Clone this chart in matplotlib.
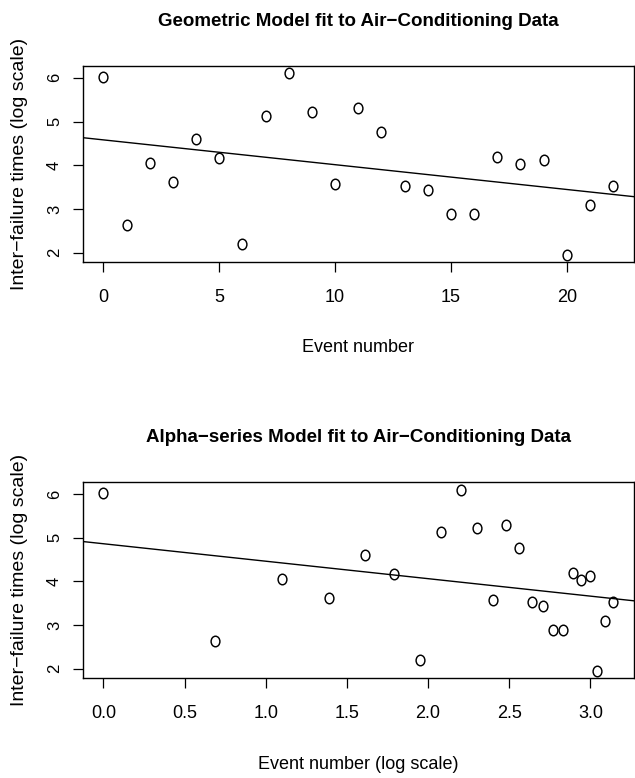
import matplotlib
matplotlib.use("Agg")
import matplotlib.pyplot as plt
from matplotlib.path import Path
from matplotlib.transforms import Affine2D

# air-conditioning data
event = list(range(23))
log_event = [0.00, 0.69, 1.10, 1.39, 1.61, 1.79, 1.95, 2.08, 2.20, 2.30, 2.40, 2.48,
             2.56, 2.64, 2.71, 2.77, 2.83, 2.89, 2.94, 3.00, 3.04, 3.09, 3.14]
log_times = [6.02, 2.64, 4.06, 3.61, 4.60, 4.17, 2.20, 5.13, 6.10, 5.22, 3.58, 5.30,
             4.77, 3.53, 3.43, 2.89, 2.89, 4.20, 4.04, 4.13, 1.95, 3.09, 3.53]

# fitted lines (intercept, slope)
geom_fit = (4.58, -0.0567)
alpha_fit = (4.86, -0.40)

x_ticks_top = [0, 5, 10, 15, 20]
x_ticks_bot = [0.0, 0.5, 1.0, 1.5, 2.0, 2.5, 3.0]
y_ticks = [2, 3, 4, 5, 6]

fam = ['Liberation Sans', 'DejaVu Sans']

# slightly tall circle, like the scanned original
ring = Path.unit_circle().transformed(Affine2D().scale(1.0, 1.2))

fig = plt.figure(figsize=(6.35, 7.78), dpi=100)
ax1 = fig.add_axes([0.1307, 0.663, 0.867, 0.252])
ax2 = fig.add_axes([0.1307, 0.1285, 0.867, 0.2515])


def panel(ax, x, fit, xticks, xfmt, title, xlabel):
    ax.plot(x, log_times, linestyle='none', marker=ring, markersize=7.6,
            markerfacecolor='none', markeredgecolor='black', markeredgewidth=1.05)
    ax.axline((0, fit[0]), slope=fit[1], color='black', linewidth=1.0)
    lo, hi = min(x), max(x)
    ext = 0.04 * (hi - lo)
    ax.set_xlim(lo - ext, hi + ext)
    ylo, yhi = min(log_times), max(log_times)
    yext = 0.04 * (yhi - ylo)
    ax.set_ylim(ylo - yext, yhi + yext)
    ax.set_xticks(xticks)
    ax.set_xticklabels([xfmt.format(t) for t in xticks], family=fam, fontsize=13, va='center')
    ax.set_yticks(y_ticks)
    ax.set_yticklabels([str(t) for t in y_ticks], family=fam, fontsize=12,
                       rotation=90, va='center', ha='center')
    ax.tick_params(axis='x', length=7.5, width=0.9, pad=18)
    ax.tick_params(axis='y', length=7.5, width=0.9, pad=13)
    for s in ax.spines.values():
        s.set_linewidth(1.0)
    ax.set_title(title, family=fam, fontsize=13.5, fontweight='bold', pad=0, y=1.205)
    ax.set_xlabel(xlabel, family=fam, fontsize=13)
    ax.set_ylabel('Inter\u2212failure times (log scale)', family=fam, fontsize=14)
    ax.yaxis.set_label_coords(-0.10, 0.5)


panel(ax1, event, geom_fit, x_ticks_top, '{:d}',
      'Geometric Model fit to Air\u2212Conditioning Data', 'Event number')
panel(ax2, log_event, alpha_fit, x_ticks_bot, '{:.1f}',
      'Alpha\u2212series Model fit to Air\u2212Conditioning Data', 'Event number (log scale)')
ax1.xaxis.set_label_coords(0.5, -0.39)
ax2.xaxis.set_label_coords(0.5, -0.40)

fig.savefig('out.png', dpi=100)
